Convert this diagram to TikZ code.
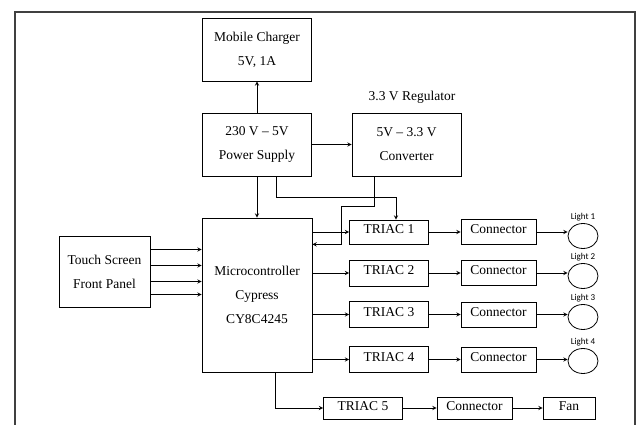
\documentclass[tikz,border=0pt]{standalone}
\usepackage{fontspec}
\setmainfont{Liberation Serif}
\newfontfamily\lightfont{Carlito}
\usetikzlibrary{arrows,positioning,shapes.geometric}

\begin{document}
\begin{tikzpicture}[>=stealth, x=1pt, y=-1pt,
  blk/.style={draw, line width=0.8pt, align=center, inner sep=0pt,
    font=\fontsize{13.5}{24}\selectfont},
  triac/.style={blk, minimum width=79pt, minimum height=26pt,
    text height=9pt, text depth=5pt},
  conn/.style={blk, minimum width=75pt, minimum height=25pt,
    text height=9pt, text depth=5pt},
  lamp/.style={draw, ellipse, line width=0.8pt, minimum width=30pt,
    minimum height=25pt, inner sep=0pt},
  lbl/.style={font=\lightfont\fontsize{9}{10}\selectfont, inner sep=2pt},
  every path/.style={line width=0.9pt}]
  \useasboundingbox (0,0) rectangle (638,425);

  % Frame
  \draw[line width=1.4pt, black!75] (15,425) -- (15,12) -- (635,12) -- (635,425);

  % Power part
  \node[blk, minimum width=109pt, minimum height=63pt] (charger) at (257,49.5) {Mobile Charger\\5V, 1A};
  \node[blk, minimum width=109pt, minimum height=63pt] (psu) at (257,144.5) {230 V -- 5V\\Power Supply};
  \node[blk, minimum width=109pt, minimum height=63pt] (reg) at (406.5,144.5) {5V -- 3.3 V\\Converter};
  \node[font=\fontsize{13.5}{16}\selectfont] (regtxt) at (412,97) {3.3 V Regulator};

  % Controller and panel
  \node[blk, minimum width=110pt, minimum height=154pt] (mcu) at (257,295) {Microcontroller\\Cypress\\CY8C4245};
  \node[blk, minimum width=91pt, minimum height=71pt] (touch) at (104.5,271.5) {Touch Screen\\Front Panel};

  % Load rows
  \node[triac, minimum height=24pt] (tr1) at (389,232) {TRIAC 1};
  \node[triac] (tr2) at (389,273) {TRIAC 2};
  \node[triac] (tr3) at (389,314.5) {TRIAC 3};
  \node[triac] (tr4) at (389,359.5) {TRIAC 4};
  \node[conn] (con1) at (498.5,232) {Connector};
  \node[conn] (con2) at (498.5,273) {Connector};
  \node[conn] (con3) at (498.5,314.5) {Connector};
  \node[conn] (con4) at (498.5,359.5) {Connector};
  \node[lamp, label={[lbl]above:Light 1}] (L1) at (583,236) {};
  \node[lamp, label={[lbl]above:Light 2}] (L2) at (583,276) {};
  \node[lamp, label={[lbl]above:Light 3}] (L3) at (583,317) {};
  \node[lamp, label={[lbl]above:Light 4}] (L4) at (583,361) {};

  % Fan row
  \node[triac, minimum height=22pt] (tr5) at (363,408) {TRIAC 5};
  \node[conn, minimum height=22pt] (con5) at (474.5,408) {Connector};
  \node[conn, minimum width=52pt, minimum height=22pt] (fan) at (569,408) {Fan};

  % Supply arrows
  \draw[->] (psu) -- (charger);
  \draw[->] (psu) -- (reg);
  \draw[->] (psu) -- (mcu);
  \draw[->] ([xshift=19pt]psu.south) -- ++(0,21) -| ([xshift=7pt]tr1.north);
  \draw[->] ([xshift=-32pt]reg.south) -- ++(0,30) -- ++(-33,0) |- (mcu.east |- tr1.south);

  % Panel to controller
  \draw[->] ([yshift=22pt]touch.east) -- ([yshift=22pt]touch.east -| mcu.west);
  \draw[->] ([yshift=6pt]touch.east) -- ([yshift=6pt]touch.east -| mcu.west);
  \draw[->] ([yshift=-10pt]touch.east) -- ([yshift=-10pt]touch.east -| mcu.west);
  \draw[->] ([yshift=-23pt]touch.east) -- ([yshift=-23pt]touch.east -| mcu.west);

  % Controller to loads
  \draw[->] (mcu.east |- tr1) -- (tr1);
  \draw[->] (mcu.east |- tr2) -- (tr2);
  \draw[->] (mcu.east |- tr3) -- (tr3);
  \draw[->] (mcu.east |- tr4) -- (tr4);
  \draw[->] ([xshift=18pt]mcu.south) |- (tr5);

  \draw[->] (tr1) -- (con1);
  \draw[->] (tr2) -- (con2);
  \draw[->] (tr3) -- (con3);
  \draw[->] (tr4) -- (con4);
  \draw[->] (con1.east) -- (con1.east -| L1.west);
  \draw[->] (con2.east) -- (con2.east -| L2.west);
  \draw[->] (con3.east) -- (con3.east -| L3.west);
  \draw[->] (con4.east) -- (con4.east -| L4.west);
  \draw[->] (tr5) -- (con5);
  \draw[->] (con5) -- (fan);
\end{tikzpicture}
\end{document}
